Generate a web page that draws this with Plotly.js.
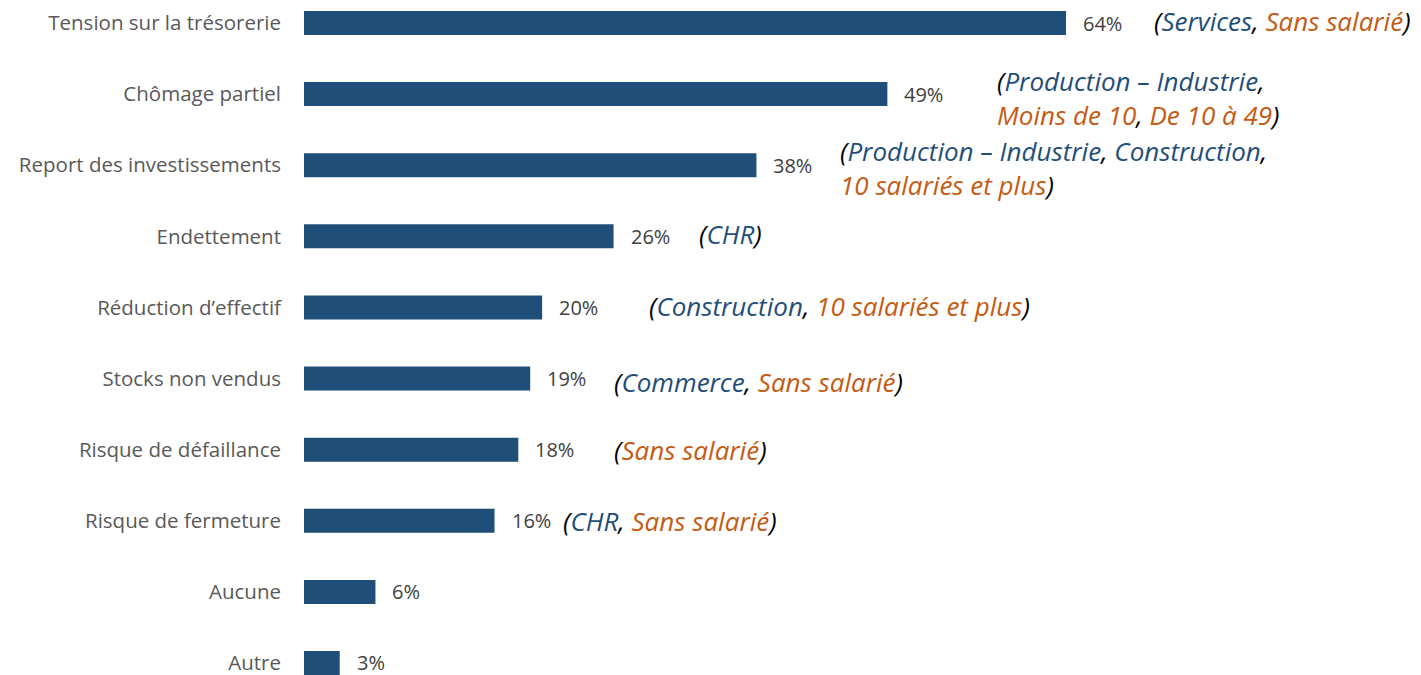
<!DOCTYPE html>
<html>
<head>
<meta charset="utf-8">
<script src="https://cdn.plot.ly/plotly-3.0.1.min.js"></script>
<style>html,body{margin:0;padding:0;background:#fff;}#chart{width:1421px;height:675px;}</style>
</head>
<body>
<div id="chart"></div>
<script>
// ---- data ----
const categories = ["Tension sur la trésorerie","Chômage partiel","Report des investissements","Endettement","Réduction d’effectif","Stocks non vendus","Risque de défaillance","Risque de fermeture","Aucune","Autre"];
const values = [64, 49, 38, 26, 20, 19, 18, 16, 6, 3];
const commentSectors = [["Services"],["Production – Industrie"],["Production – Industrie","Construction"],["CHR"],["Construction"],["Commerce"],[],["CHR"],[],[]];
const commentSizes = [["Sans salarié"],["Moins de 10","De 10 à 49"],["10 salariés et plus"],[],["10 salariés et plus"],["Sans salarié"],["Sans salarié"],["Sans salarié"],[],[]];

// ---- style ----
const BAR = "#1F4E79", BLUE = "#1F4E79", ORANGE = "#C55A11", GREY = "#595959", VGREY = "#404040";
const FONT = "'Open Sans', Lato, sans-serif";
const commentShift = [86, 108, 82, 83, 105, 82, 94, 66, 0, 0];
const commentWrap = [false, true, true, false, false, false, false, false, false, false];
const commentYShift = [2, -4, -3, 2, 1, -3, 0, 0, 0, 0];

const annotations = [];
values.forEach((v, i) => {
  annotations.push({
    x: v, y: categories[i], xref: "x", yref: "y",
    text: v + "%", showarrow: false, xanchor: "left", yanchor: "middle",
    xshift: 15, yshift: i === values.length - 1 ? 1 : 0,
    font: {family: FONT, size: 20, color: VGREY}
  });
  const s = commentSectors[i], z = commentSizes[i];
  if (s.length + z.length === 0) return;
  const parts = s.map(t => '<span style="color:' + BLUE + '">' + t + '</span>');
  const zparts = z.map(t => '<span style="color:' + ORANGE + '">' + t + '</span>');
  let txt;
  if (commentWrap[i]) {
    txt = "(" + parts.join(", ") + ",<br>" + zparts.join(", ") + ")";
  } else {
    txt = "(" + parts.concat(zparts).join(", ") + ")";
  }
  annotations.push({
    x: v, y: categories[i], xref: "x", yref: "y",
    text: "<i>" + txt + "</i>", showarrow: false, xanchor: "left", yanchor: "middle",
    align: "left", xshift: commentShift[i], yshift: commentYShift[i],
    font: {family: FONT, size: 26, color: "#000000"}
  });
});

const trace = {
  type: "bar", orientation: "h",
  x: values, y: categories,
  marker: {color: BAR},
  hoverinfo: "skip"
};

const layout = {
  width: 1421, height: 675,
  margin: {l: 304, r: 0, t: 0, b: 0, pad: 0},
  paper_bgcolor: "#ffffff", plot_bgcolor: "#ffffff",
  showlegend: false,
  bargap: 0.6625,
  xaxis: {range: [0, 1117 / 11.906], visible: false, showgrid: false, zeroline: false, fixedrange: true},
  yaxis: {
    type: "category", categoryorder: "array", categoryarray: categories,
    range: [9.1688, -0.3234],
    showgrid: false, zeroline: false, showline: false, ticks: "",
    ticklabelstandoff: 22,
    tickfont: {family: FONT, size: 20.5, color: GREY}
  },
  annotations: annotations
};

Plotly.newPlot("chart", [trace], layout, {displayModeBar: false, staticPlot: true});
</script>
</body>
</html>
